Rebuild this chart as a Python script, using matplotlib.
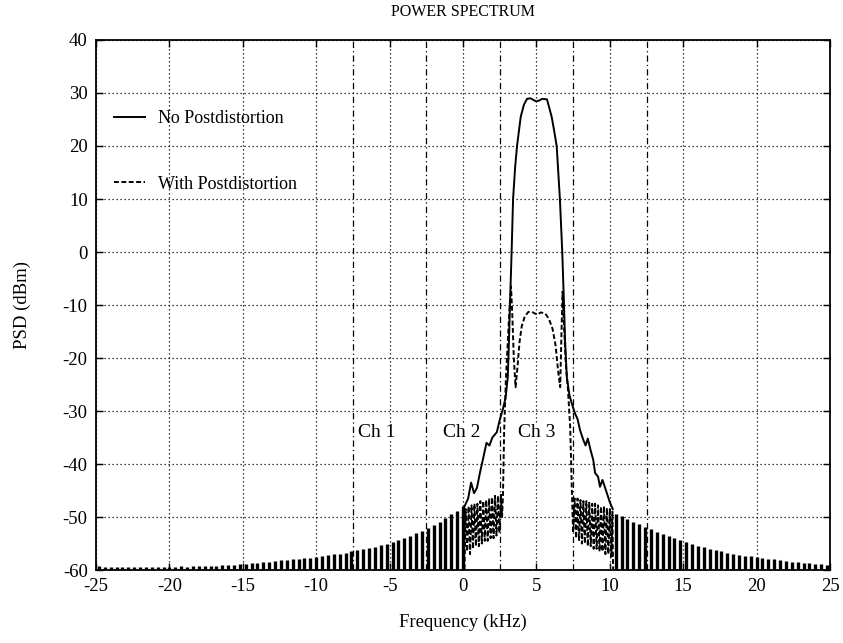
import matplotlib
matplotlib.use('Agg')
import matplotlib.pyplot as plt

plt.rcParams['font.family'] = ['Liberation Serif', 'DejaVu Serif']
plt.rcParams['axes.unicode_minus'] = False

# --- data (frequency in kHz, PSD in dBm) ---
# outer spectral regrowth ripple of the undistorted signal (peak of each lobe)
ripple_f_left = [-24.8, -24.4, -24.0, -23.6, -23.2, -22.8, -22.4, -22.0, -21.6, -21.2,
                 -20.8, -20.4, -20.0, -19.6, -19.2, -18.8, -18.4, -18.0, -17.6, -17.2,
                 -16.8, -16.4, -16.0, -15.6, -15.2, -14.8, -14.4, -14.0, -13.6, -13.2,
                 -12.8, -12.4, -12.0, -11.6, -11.2, -10.8, -10.4, -10.0, -9.6, -9.2,
                 -8.8, -8.4, -8.0, -7.6, -7.2, -6.8, -6.4, -6.0, -5.6, -5.2,
                 -4.8, -4.4, -4.0, -3.6, -3.2, -2.8, -2.4, -2.0, -1.6, -1.2,
                 -0.8, -0.4, 0.0]
ripple_db_left = [-59.3, -59.4, -59.4, -59.5, -59.4, -59.5, -59.4, -59.5, -59.4, -59.4,
                  -59.5, -59.4, -59.4, -59.4, -59.3, -59.4, -59.3, -59.3, -59.3, -59.2,
                  -59.2, -59.1, -59.0, -59.0, -58.8, -58.8, -58.7, -58.6, -58.5, -58.4,
                  -58.3, -58.2, -58.1, -58.0, -57.9, -57.8, -57.7, -57.5, -57.4, -57.2,
                  -57.0, -56.9, -56.7, -56.5, -56.3, -56.1, -55.9, -55.6, -55.3, -55.0,
                  -54.7, -54.4, -54.0, -53.6, -53.1, -52.6, -52.1, -51.5, -50.9, -50.2,
                  -49.5, -48.8, -48.0]
ripple_f_right = [10.4, 10.8, 11.2, 11.6, 12.0, 12.4, 12.8, 13.2, 13.6, 14.0,
                  14.4, 14.8, 15.2, 15.6, 16.0, 16.4, 16.8, 17.2, 17.6, 18.0,
                  18.4, 18.8, 19.2, 19.6, 20.0, 20.4, 20.8, 21.2, 21.6, 22.0,
                  22.4, 22.8, 23.2, 23.6, 24.0, 24.4, 24.8]
ripple_db_right = [-49.4, -49.9, -50.4, -50.9, -51.4, -51.9, -52.3, -52.8, -53.2, -53.6,
                   -54.0, -54.4, -54.8, -55.1, -55.4, -55.7, -56.0, -56.3, -56.5, -56.7,
                   -56.9, -57.1, -57.3, -57.4, -57.6, -57.7, -57.9, -58.0, -58.2, -58.3,
                   -58.4, -58.5, -58.6, -58.7, -58.8, -58.9, -59.0]

# main lobe, no postdistortion
no_pd_f = [0.1, 0.35, 0.55, 0.75, 0.95, 1.15, 1.35, 1.6, 1.8, 2.0, 2.3, 2.5, 2.7, 2.9,
           3.05, 3.13, 3.22, 3.31, 3.41, 3.55, 3.68, 3.93, 4.15, 4.36, 4.6, 4.85, 5.0,
           5.2, 5.4, 5.72, 6.04, 6.2, 6.38, 6.6, 6.76, 6.88, 6.95, 7.07, 7.25, 7.4,
           7.62, 7.8, 7.97, 8.2, 8.35, 8.5, 8.7, 8.87, 9.0, 9.2, 9.33, 9.5, 9.8, 10.0, 10.2]
no_pd_db = [-48.0, -46.5, -43.5, -45.5, -44.5, -41.7, -39.2, -36.0, -36.5, -35.0, -34.0,
            -31.7, -29.8, -27.5, -23.6, -16.6, -8.0, 0.0, 10.0, 16.0, 20.0, 25.5, 27.8,
            28.9, 29.0, 28.6, 28.4, 28.6, 28.9, 28.8, 25.5, 23.0, 20.0, 10.0, 0.0, -10.0,
            -16.6, -23.6, -27.0, -28.5, -30.4, -31.5, -33.6, -35.5, -36.5, -35.2, -37.5,
            -39.2, -41.7, -42.4, -44.3, -43.0, -45.5, -47.2, -48.5]

# with postdistortion
pd_f = [0.10, 0.18, 0.28, 0.38, 0.48, 0.58, 0.68, 0.78, 0.88, 0.98, 1.08, 1.18, 1.28,
        1.38, 1.48, 1.58, 1.68, 1.78, 1.88, 1.98, 2.08, 2.18, 2.28, 2.38, 2.48, 2.58,
        2.66, 2.72, 2.8, 2.92, 3.05, 3.18, 3.27, 3.36, 3.46, 3.58, 3.7, 3.85, 4.0, 4.2,
        4.45, 4.7, 4.9, 5.05, 5.3, 5.6, 5.85, 6.1, 6.3, 6.48, 6.62, 6.7, 6.78, 6.88,
        7.0, 7.15, 7.3, 7.42, 7.5, 7.6, 7.7, 7.8, 7.9, 8.0, 8.1, 8.2, 8.3, 8.4, 8.5,
        8.6, 8.7, 8.8, 8.9, 9.0, 9.1, 9.2, 9.3, 9.4, 9.5, 9.6, 9.7, 9.8, 9.9, 10.0,
        10.1, 10.18, 10.22]
pd_db = [-59.8, -48.5, -56.5, -48.0, -57.0, -47.8, -56.0, -47.5, -55.5, -47.5, -55.5,
         -47.0, -55.0, -47.0, -54.5, -46.8, -54.5, -46.5, -54.0, -46.3, -54.0, -46.0,
         -53.5, -46.0, -53.0, -45.8, -50.0, -46.0, -34.0, -24.0, -17.0, -10.0, -6.5,
         -12.0, -20.0, -25.5, -22.0, -17.0, -14.0, -12.2, -11.3, -11.3, -11.6, -11.8,
         -11.4, -11.6, -12.6, -14.5, -17.5, -22.5, -25.5, -16.0, -7.5, -14.0, -21.0,
         -26.0, -33.0, -45.5, -53.0, -46.5, -54.0, -46.5, -54.5, -46.8, -55.0, -47.0,
         -55.0, -47.0, -55.5, -47.3, -55.5, -47.5, -56.0, -47.5, -56.0, -47.8, -56.5,
         -48.0, -56.5, -48.0, -57.0, -48.3, -57.0, -48.5, -57.5, -49.0, -59.8]

channel_edges = [-7.5, -2.5, 2.5, 7.5, 12.5]
channel_labels = ['Ch 1', 'Ch 2', 'Ch 3']
channel_label_f = [-5.9, -0.1, 5.0]
channel_label_db = -34.0
floor_db = -60

fig = plt.figure(figsize=(8.43, 6.43), dpi=100)
ax = fig.add_axes([0.1139, 0.1135, 0.8707, 0.8243])

ax.set_xlim(-25, 25)
ax.set_ylim(-60, 40)
ax.set_xticks(range(-25, 26, 5))
ax.set_yticks(range(-60, 41, 10))
ax.grid(True, color='black', linestyle=(0, (1, 2.2)), linewidth=0.9)
ax.set_axisbelow(True)

for f in channel_edges:
    ax.axvline(f, color='black', linestyle=(0, (5, 2.5, 1, 2.5)), linewidth=0.9, zorder=1)

# outer ripple lobes (nulls fall below the plotted floor)
ax.vlines(ripple_f_left, floor_db, ripple_db_left, color='black', linewidth=2.4, zorder=3)
ax.vlines(ripple_f_right, floor_db, ripple_db_right, color='black', linewidth=2.4, zorder=3)

ax.plot(no_pd_f, no_pd_db, color='black', linewidth=1.4, label='No Postdistortion', zorder=4)
ax.plot(pd_f, pd_db, color='black', linewidth=1.4, linestyle=(0, (2.5, 1.3)),
        label='With Postdistortion', zorder=5)

for lab, f in zip(channel_labels, channel_label_f):
    ax.text(f, channel_label_db, lab, ha='center', va='center', fontsize=14,
            bbox=dict(facecolor='white', edgecolor='none', pad=0.5), zorder=6)

leg = ax.legend(loc='upper left', bbox_to_anchor=(0.025, 0.868), frameon=False,
                fontsize=13, handlelength=1.7, handletextpad=0.7, labelspacing=2.7,
                borderpad=0, borderaxespad=0)

ax.tick_params(direction='in', length=5, width=1, top=True, right=True,
               labelsize=13.5, pad=6, colors='black')
for s in ax.spines.values():
    s.set_linewidth(1.3)
    s.set_zorder(7)

ax.set_title('POWER SPECTRUM', fontsize=11.5, pad=17)
ax.set_xlabel('Frequency (kHz)', fontsize=13.5, labelpad=13)
ax.set_ylabel('PSD (dBm)', fontsize=13.5, labelpad=23)

fig.savefig('out.png', dpi=100)
